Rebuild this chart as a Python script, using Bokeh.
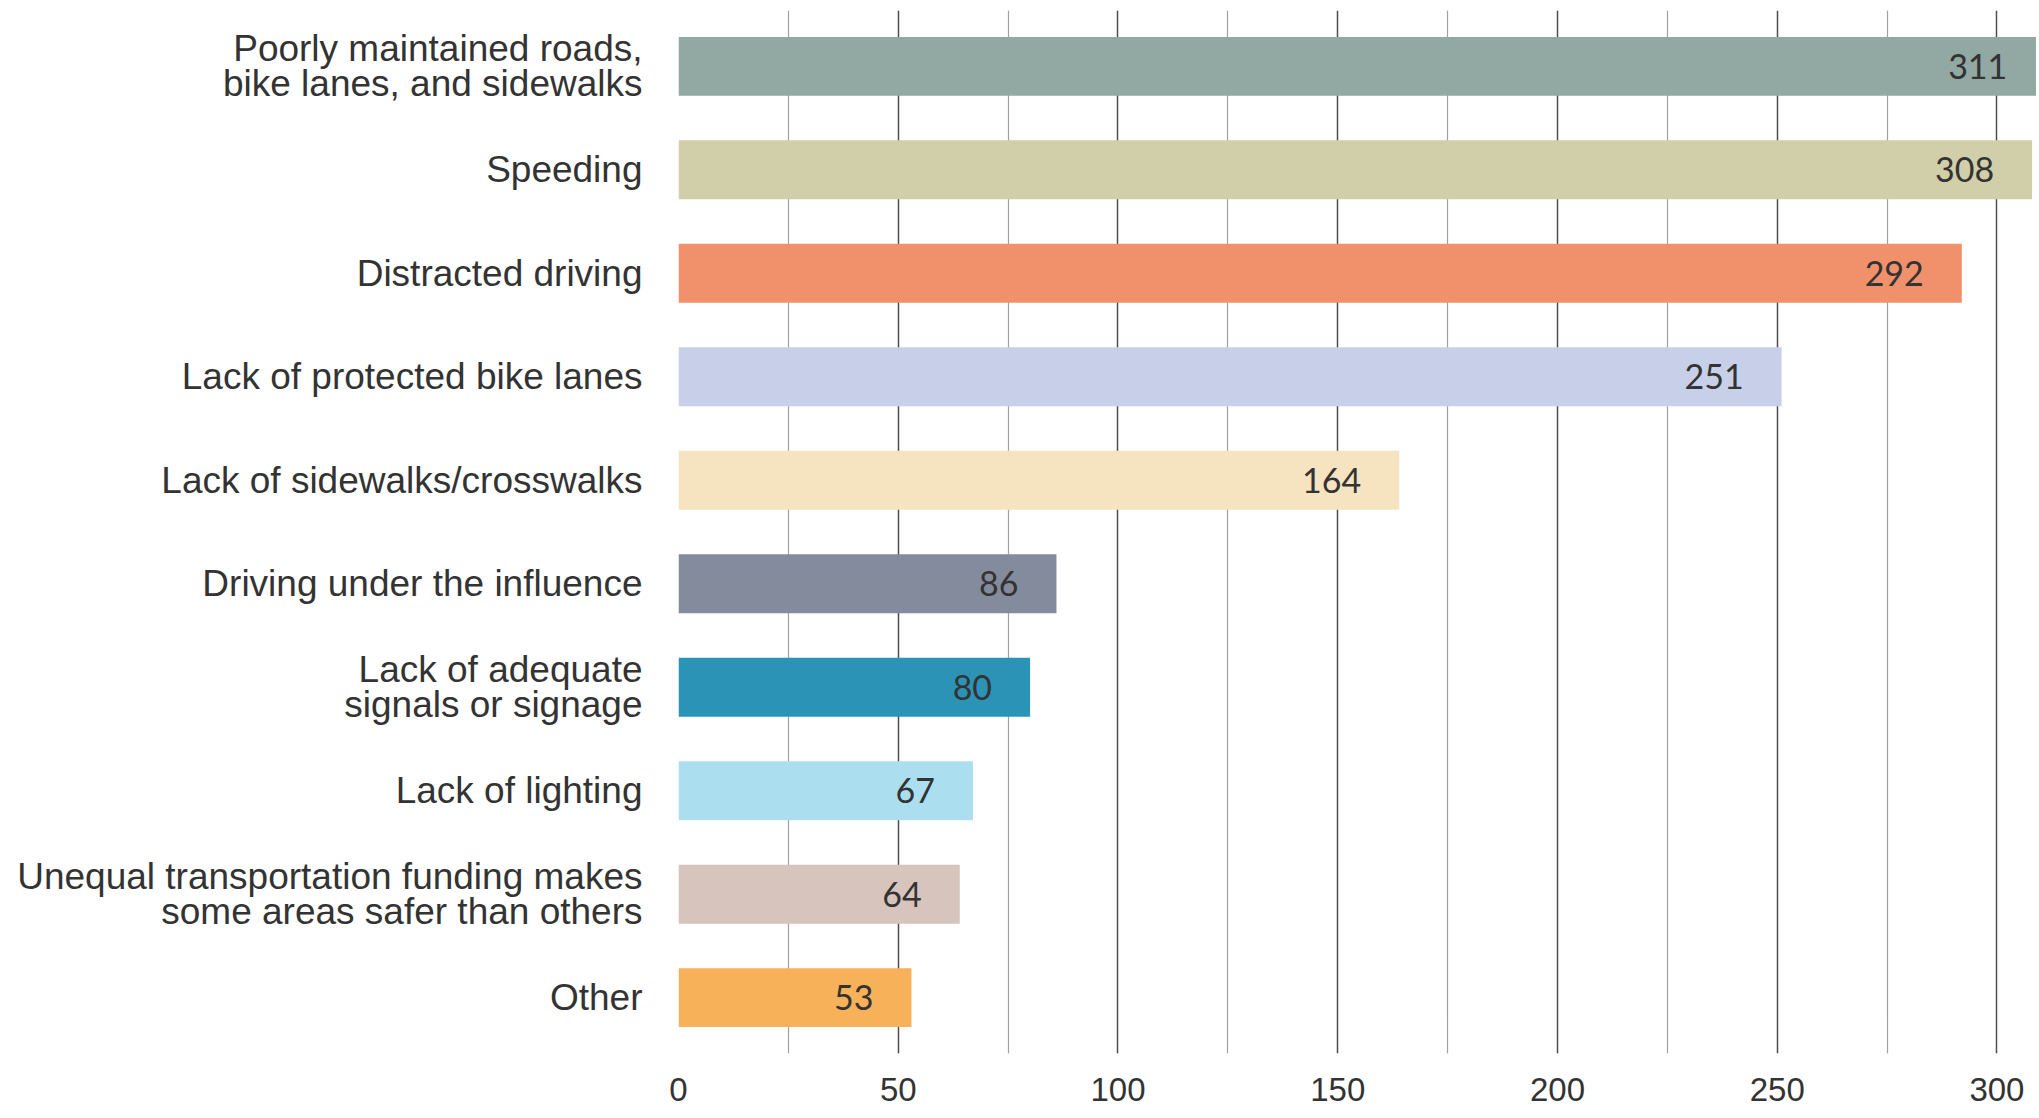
from bokeh.plotting import figure
from bokeh.models import ColumnDataSource, FactorRange, Range1d, FixedTicker
from bokeh.core.properties import value
from bokeh.embed import file_html
from bokeh.resources import INLINE

categories = [
    "Poorly maintained roads,\nbike lanes, and sidewalks",
    "Speeding",
    "Distracted driving",
    "Lack of protected bike lanes",
    "Lack of sidewalks/crosswalks",
    "Driving under the influence",
    "Lack of adequate\nsignals or signage",
    "Lack of lighting",
    "Unequal transportation funding makes\nsome areas safer than others",
    "Other",
]
counts = [311, 308, 292, 251, 164, 86, 80, 67, 64, 53]
colors = ["#92a8a2", "#d0cfaa", "#f0916c", "#c8cfe9", "#f6e3c0",
          "#848b9d", "#2b93b6", "#abdff0", "#d7c4bd", "#f7b158"]
major_ticks = [0, 50, 100, 150, 200, 250, 300]
minor_ticks = [25, 75, 125, 175, 225, 275]

source = ColumnDataSource(dict(
    cat=categories,
    count=counts,
    color=colors,
    label=[str(c) for c in counts],
))

p = figure(
    frame_width=1358, frame_height=1043,
    y_range=FactorRange(*reversed(categories), range_padding=0.04, range_padding_units="absolute"),
    x_range=Range1d(0, 309),
    output_backend="svg", toolbar_location=None,
    min_border_left=678, min_border_right=0, min_border_top=10, min_border_bottom=57,
)
p.outline_line_color = None
p.background_fill_color = "white"
p.border_fill_color = "white"

p.hbar(y="cat", right="count", left=0, height=0.57, color="color", line_color=None, source=source)

p.text(x="count", y="cat", text="label", source=source, x_offset=-38,
       text_align="right", text_baseline="middle",
       text_font=value("Lato"), text_font_size="34px", text_color="#333333")

ticker = FixedTicker(ticks=major_ticks, minor_ticks=minor_ticks)
p.xaxis.ticker = ticker
p.xgrid.ticker = ticker
p.xgrid.grid_line_color = "#4d4d4d"
p.xgrid.grid_line_width = 1.5
p.xgrid.minor_grid_line_color = "#a0a0a0"
p.xgrid.minor_grid_line_width = 1.2
p.ygrid.grid_line_color = None

p.xaxis.axis_line_color = None
p.xaxis.major_tick_line_color = None
p.xaxis.minor_tick_line_color = None
p.xaxis.major_tick_out = 0
p.xaxis.minor_tick_out = 0
p.xaxis.major_label_standoff = 24
p.xaxis.major_label_text_font = "Liberation Sans"
p.xaxis.major_label_text_font_size = "33px"
p.xaxis.major_label_text_color = "#333333"

p.yaxis.axis_line_color = None
p.yaxis.major_tick_line_color = None
p.yaxis.major_tick_out = 0
p.yaxis.major_label_standoff = 36
p.yaxis.major_label_text_font = "Liberation Sans"
p.yaxis.major_label_text_font_size = "37px"
p.yaxis.major_label_text_color = "#333333"
p.yaxis.major_label_text_line_height = 0.85

open("out.html", "w").write(file_html(p, INLINE))
